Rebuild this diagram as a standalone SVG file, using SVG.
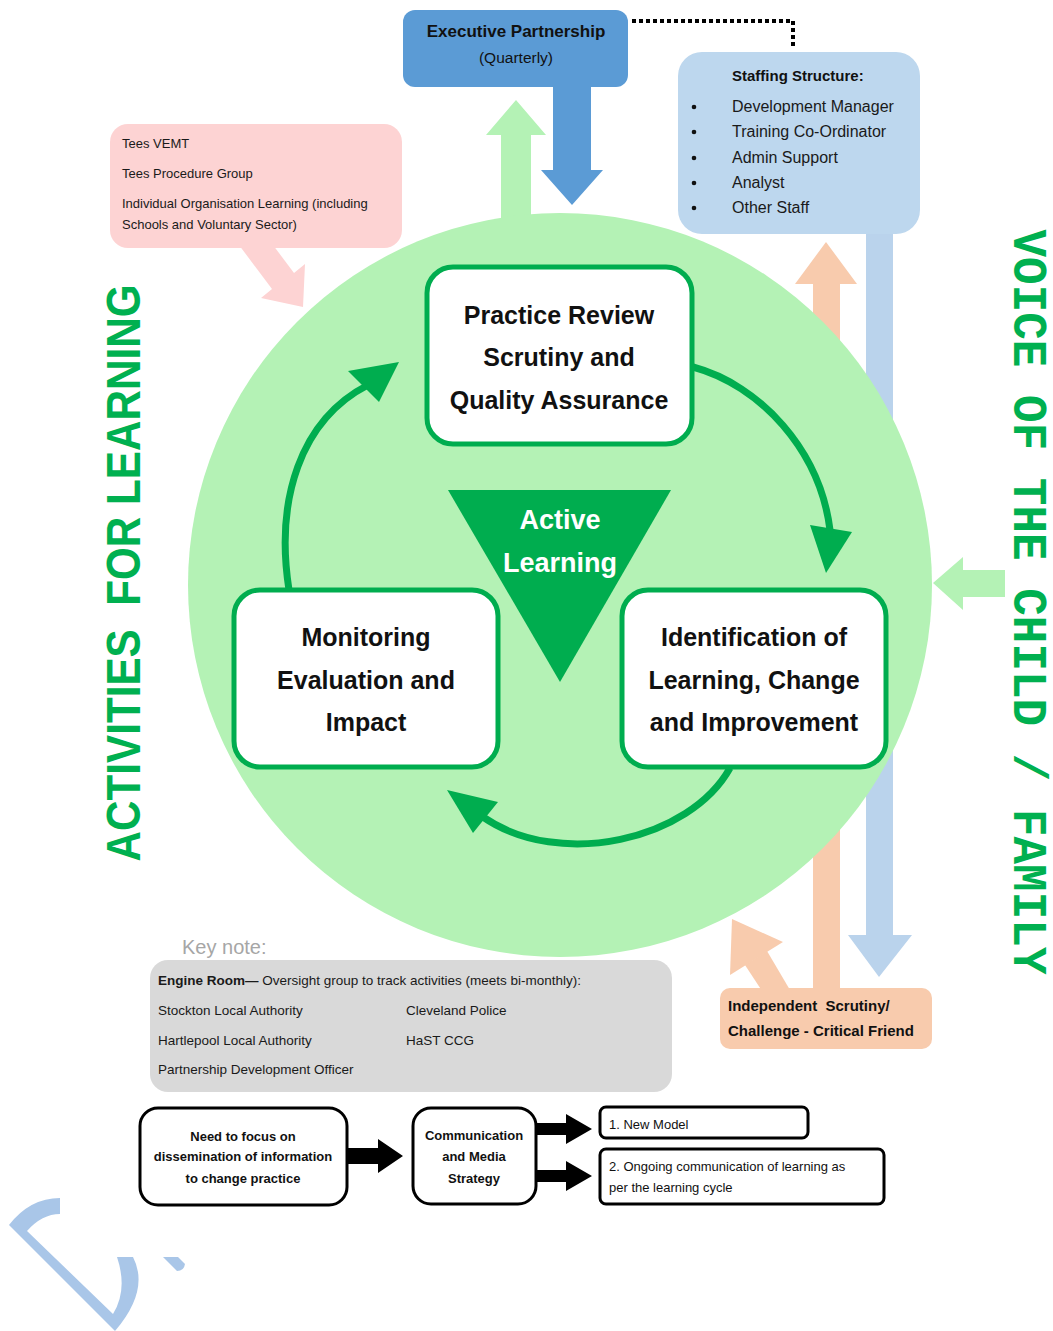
<svg xmlns="http://www.w3.org/2000/svg" width="1053" height="1331" viewBox="0 0 1053 1331">
  <style>
    .sans { font-family: "Liberation Sans", Arial, sans-serif; }
    .cycle-box { fill: #ffffff; stroke: #00ad4f; stroke-width: 5; }
    .cycle-text { font-family: "Liberation Sans", Arial, sans-serif; font-weight: bold; font-size: 25px; fill: #111111; text-anchor: middle; }
    .cycle-arc { fill: none; stroke: #00ad4f; stroke-width: 7; }
    .cycle-head { fill: #00ad4f; }
    .small { font-family: "Liberation Sans", Arial, sans-serif; font-size: 13.5px; fill: #1a1a1a; }
    .staff { font-family: "Liberation Sans", Arial, sans-serif; font-size: 16px; fill: #1a1a1a; }
    .pink-text { font-family: "Liberation Sans", Arial, sans-serif; font-size: 13px; fill: #1a1a1a; }
    .flow-box { fill: #ffffff; stroke: #000000; stroke-width: 3; }
    .flow-text { font-family: "Liberation Sans", Arial, sans-serif; font-size: 13px; font-weight: bold; fill: #111111; text-anchor: middle; }
    .flow-arrow { fill: #000000; }
    .side-label { font-weight: bold; fill: #00b050; text-anchor: middle; }
  </style>

  <rect width="1053" height="1331" fill="#ffffff"/>

  <!-- connectors: block arrows around the learning circle -->
  <g id="connectors">
    <!-- pink input arrow -->
    <polygon points="239,245 261,229 294,273 305,264 303,307 261,298 272,289" fill="#fdd3d3"/>
    <!-- blue arrow down from the executive partnership -->
    <polygon points="553,80 591,80 591,170 603,170 572,205 541,170 553,170" fill="#5b9bd5"/>
    <!-- green arrow up to the executive partnership -->
    <polygon points="501,240 501,135 486,135 516,100 546,135 531,135 531,240" fill="#b4f2b5"/>
    <!-- staffing arrow down to independent scrutiny -->
    <polygon points="866,225 893,225 893,935 912,935 879,977 848,935 866,935" fill="#bad3ec"/>
    <!-- independent scrutiny arrow up to staffing -->
    <polygon points="813,995 813,284 795,284 826,242 857,284 840,284 840,995" fill="#f8cbad"/>
    <!-- independent scrutiny arrow into the circle -->
    <polygon points="745,965 767,951 790,990 768,1000" fill="#f8cbad"/>
    <polygon points="732,919 783,942 730,975" fill="#f8cbad"/>
  </g>

  <!-- learning circle -->
  <g id="learning-circle">
    <circle cx="560" cy="585" r="372" fill="#b4f2b5"/>
  </g>

  <g id="voice-arrow">
    <polygon points="1005,570 963,570 963,557 933,583 963,610 963,597 1005,597" fill="#b4f2b5"/>
  </g>

  <!-- cycle arrows between the three stages -->
  <g id="cycle-connectors">
    <path class="cycle-arc" d="M 693 367 C 760 385 820 450 830 530"/>
    <polygon class="cycle-head" points="810,525 852,532 826,573"/>
    <path class="cycle-arc" d="M 730 768 C 690 840 560 870 483 817"/>
    <polygon class="cycle-head" points="447,790 498,802 473,833"/>
    <path class="cycle-arc" d="M 289 590 C 275 500 300 420 368 385"/>
    <polygon class="cycle-head" points="399,362 348,371 379,402"/>
  </g>

  <!-- centre: active learning -->
  <g id="active-learning">
    <polygon points="448,490 671,490 560,682" fill="#00ad4f"/>
    <text class="sans" x="560" y="529" font-size="27" font-weight="bold" fill="#ffffff" text-anchor="middle">Active</text>
    <text class="sans" x="560" y="572" font-size="27" font-weight="bold" fill="#ffffff" text-anchor="middle">Learning</text>
  </g>

  <g id="practice-review">
    <rect class="cycle-box" x="427" y="267" width="265" height="177" rx="26"/>
    <text class="cycle-text" x="559" y="324">Practice Review</text>
    <text class="cycle-text" x="559" y="366">Scrutiny and</text>
    <text class="cycle-text" x="559" y="409">Quality Assurance</text>
  </g>

  <g id="monitoring">
    <rect class="cycle-box" x="234" y="590" width="264" height="177" rx="26"/>
    <text class="cycle-text" x="366" y="646">Monitoring</text>
    <text class="cycle-text" x="366" y="689">Evaluation and</text>
    <text class="cycle-text" x="366" y="731">Impact</text>
  </g>

  <g id="identification">
    <rect class="cycle-box" x="622" y="590" width="264" height="177" rx="26"/>
    <text class="cycle-text" x="754" y="646">Identification of</text>
    <text class="cycle-text" x="754" y="689">Learning, Change</text>
    <text class="cycle-text" x="754" y="731">and Improvement</text>
  </g>

  <g id="executive-partnership">
    <rect x="403" y="10" width="225" height="77" rx="12" fill="#5b9bd5"/>
    <text class="sans" x="516" y="37" font-size="17" font-weight="bold" fill="#111111" text-anchor="middle">Executive Partnership</text>
    <text class="sans" x="516" y="63" font-size="15.5" fill="#111111" text-anchor="middle">(Quarterly)</text>
    <path d="M 632 21 H 793 V 48" fill="none" stroke="#000000" stroke-width="4" stroke-dasharray="4 3"/>
  </g>

  <g id="staffing-structure">
    <rect x="678" y="52" width="242" height="182" rx="24" fill="#bdd7ee"/>
    <text class="sans" x="732" y="81" font-size="15" font-weight="bold" fill="#111111">Staffing Structure:</text>
    <g fill="#111111">
      <circle cx="694" cy="107" r="2.3"/>
      <circle cx="694" cy="132" r="2.3"/>
      <circle cx="694" cy="158" r="2.3"/>
      <circle cx="694" cy="183" r="2.3"/>
      <circle cx="694" cy="208" r="2.3"/>
    </g>
    <text class="staff" x="732" y="112">Development Manager</text>
    <text class="staff" x="732" y="137">Training Co-Ordinator</text>
    <text class="staff" x="732" y="163">Admin Support</text>
    <text class="staff" x="732" y="188">Analyst</text>
    <text class="staff" x="732" y="213">Other Staff</text>
  </g>

  <g id="tees-groups">
    <rect x="110" y="124" width="292" height="124" rx="18" fill="#fdd3d3"/>
    <text class="pink-text" x="122" y="148">Tees VEMT</text>
    <text class="pink-text" x="122" y="178">Tees Procedure Group</text>
    <text class="pink-text" x="122" y="208">Individual Organisation Learning (including</text>
    <text class="pink-text" x="122" y="229">Schools and Voluntary Sector)</text>
  </g>

  <g id="independent-scrutiny">
    <rect x="720" y="988" width="212" height="61" rx="10" fill="#f8cbad"/>
    <text class="sans" x="728" y="1011" font-size="15" font-weight="bold" fill="#111111" xml:space="preserve">Independent  Scrutiny/</text>
    <text class="sans" x="728" y="1036" font-size="15" font-weight="bold" fill="#111111">Challenge - Critical Friend</text>
  </g>

  <!-- side labels -->
  <g id="activities-label">
    <text class="sans side-label" transform="translate(140 573) rotate(-90)" font-size="49" textLength="577" lengthAdjust="spacingAndGlyphs" xml:space="preserve">ACTIVITIES  FOR LEARNING</text>
  </g>
  <g id="voice-label">
    <text class="side-label" font-family="'Liberation Mono', 'DejaVu Sans Mono', monospace" transform="translate(1014 602) rotate(90)" font-size="48" textLength="745" lengthAdjust="spacingAndGlyphs">VOICE OF THE CHILD / FAMILY</text>
  </g>

  <!-- key note -->
  <g id="key-note">
    <text class="sans" x="182" y="954" font-size="20" fill="#a6a6a6">Key note:</text>
    <rect x="150" y="960" width="522" height="132" rx="18" fill="#d9d9d9"/>
    <text class="small" x="158" y="985"><tspan font-weight="bold">Engine Room—</tspan> Oversight group to track activities (meets bi-monthly):</text>
    <text class="small" x="158" y="1015">Stockton Local Authority</text>
    <text class="small" x="406" y="1015">Cleveland Police</text>
    <text class="small" x="158" y="1045">Hartlepool Local Authority</text>
    <text class="small" x="406" y="1045">HaST CCG</text>
    <text class="small" x="158" y="1074">Partnership Development Officer</text>
  </g>

  <!-- dissemination flow -->
  <g id="focus-box">
    <rect class="flow-box" x="140" y="1108" width="207" height="97" rx="18"/>
    <text class="flow-text" x="243" y="1141">Need to focus on</text>
    <text class="flow-text" x="243" y="1161">dissemination of information</text>
    <text class="flow-text" x="243" y="1183">to change practice</text>
  </g>
  <g id="comms-box">
    <rect class="flow-box" x="413" y="1108" width="123" height="96" rx="18"/>
    <text class="flow-text" x="474" y="1140">Communication</text>
    <text class="flow-text" x="474" y="1161">and Media</text>
    <text class="flow-text" x="474" y="1183">Strategy</text>
  </g>
  <g id="new-model">
    <rect class="flow-box" x="600" y="1107" width="208" height="31" rx="6"/>
    <text class="sans" x="609" y="1129" font-size="13" fill="#111111">1. New Model</text>
  </g>
  <g id="ongoing-comms">
    <rect class="flow-box" x="600" y="1149" width="284" height="55" rx="6"/>
    <text class="sans" x="609" y="1171" font-size="13" fill="#111111">2. Ongoing communication of learning as</text>
    <text class="sans" x="609" y="1192" font-size="13" fill="#111111">per the learning cycle</text>
  </g>
  <g id="flow-connectors">
    <polygon class="flow-arrow" points="348,1148 378,1148 378,1139 403,1156 378,1173 378,1164 348,1164"/>
    <polygon class="flow-arrow" points="537,1123 566,1123 566,1114 592,1129 566,1144 566,1135 537,1135"/>
    <polygon class="flow-arrow" points="537,1170 566,1170 566,1161 592,1176 566,1191 566,1182 537,1182"/>
  </g>

  <!-- corner mark -->
  <g id="corner-mark" fill="#a9c6e8">
    <path d="M 60 1198 L 60 1214 Q 42 1214 27 1231 L 113 1314 Q 128 1290 117 1257 L 133 1257 Q 150 1290 115 1331 L 9 1225 Q 30 1198 60 1198 Z"/>
    <path d="M 163 1257 L 178 1257 L 185 1264 Q 184 1271 177 1271 Z"/>
  </g>
</svg>
